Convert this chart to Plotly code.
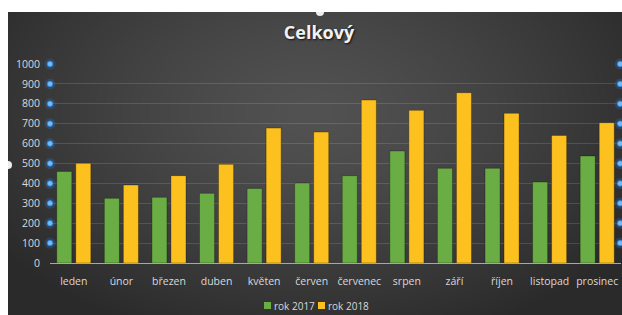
import base64
import struct
import zlib

import numpy as np
import plotly.graph_objects as go

# ---------------- data ----------------
months = ["leden", "únor", "březen", "duben", "květen", "červen",
          "červenec", "srpen", "září", "říjen", "listopad", "prosinec"]
rok_2017 = [460, 325, 330, 350, 375, 402, 439, 563, 476, 476, 407, 538]
rok_2018 = [501, 392, 439, 496, 678, 658, 819, 767, 856, 752, 641, 705]
series_names = ["rok 2017", "rok 2018"]
series_colors = ["#6aad45", "#fdc11f"]
y_ticks = [0, 100, 200, 300, 400, 500, 600, 700, 800, 900, 1000]
handle_levels = y_ticks[1:]

W, H = 622, 315


def px(x):
    return x / W


def py(y):
    return 1 - y / H


# ---------------- background gradient (PNG data uri) ----------------
def gradient_png(w, h):
    yy, xx = np.mgrid[0:h, 0:w].astype(float)
    cx, cy = 302.0, 100.0
    d = np.sqrt(((xx - cx) / (w * 0.62)) ** 2 + ((yy - cy) / (h * 0.80)) ** 2)
    d = np.clip(d, 0, 1)
    v = 82 - 40 * d ** 1.3
    arr = np.clip(v, 0, 255).astype(np.uint8)
    raw = b"".join(b"\x00" + arr[i].tobytes() for i in range(h))

    def chunk(tag, data):
        c = struct.pack(">I", len(data)) + tag + data
        return c + struct.pack(">I", zlib.crc32(tag + data) & 0xFFFFFFFF)

    png = b"\x89PNG\r\n\x1a\n"
    png += chunk(b"IHDR", struct.pack(">IIBBBBB", w, h, 8, 0, 0, 0, 0))
    png += chunk(b"IDAT", zlib.compress(raw, 9))
    png += chunk(b"IEND", b"")
    return "data:image/png;base64," + base64.b64encode(png).decode()


bg_uri = gradient_png(W - 8, H - 12)

FONT = "'Open Sans', Lato, sans-serif"
TXT = "#d9d9d9"

fig = go.Figure()

for name, vals, col in zip(series_names, [rok_2017, rok_2018], series_colors):
    fig.add_trace(go.Bar(
        name=name, x=months, y=vals,
        marker=dict(color=col, line=dict(color="rgba(0,0,0,0.35)", width=0.8)),
        showlegend=False,
    ))

# selection handles on gridlines (decorative)
for xpos in (0.0, 0.9985):
    fig.add_trace(go.Scatter(
        x=[xpos] * len(handle_levels), y=handle_levels, xaxis="x2", mode="markers",
        marker=dict(size=11, color="rgba(40,120,210,0.28)", line=dict(width=0)),
        showlegend=False, hoverinfo="skip", cliponaxis=False,
    ))
    fig.add_trace(go.Scatter(
        x=[xpos] * len(handle_levels), y=handle_levels, xaxis="x2", mode="markers",
        marker=dict(size=5.5, color="#6cbcff", line=dict(width=0.8, color="#2f86dd")),
        showlegend=False, hoverinfo="skip", cliponaxis=False,
    ))

# manual compact legend
legend_x = [264, 318]
shapes = []
annotations = []
for lx, name, col in zip(legend_x, series_names, series_colors):
    shapes.append(dict(type="rect", xref="paper", yref="paper",
                       x0=px(lx), x1=px(lx + 7), y0=py(309), y1=py(302),
                       fillcolor=col, line=dict(width=0)))
    annotations.append(dict(text=name, xref="paper", yref="paper",
                            x=px(lx + 8), y=py(305.5), xanchor="left",
                            yanchor="middle", showarrow=False,
                            font=dict(family=FONT, size=10, color=TXT)))

shapes += [
    dict(type="circle", xref="paper", yref="paper",
         x0=px(316), x1=px(324), y0=py(16), y1=py(8),
         fillcolor="#ededed", line=dict(width=0), layer="above"),
    dict(type="circle", xref="paper", yref="paper",
         x0=px(4), x1=px(12), y0=py(169), y1=py(161),
         fillcolor="#ededed", line=dict(width=0), layer="above"),
    dict(type="rect", xref="paper", yref="paper",
         x0=0, x1=px(8), y0=0, y1=1,
         fillcolor="white", line=dict(width=0), layer="above"),
    dict(type="rect", xref="paper", yref="paper",
         x0=0, x1=1, y0=py(12), y1=1,
         fillcolor="white", line=dict(width=0), layer="above"),
]

fig.update_layout(
    width=W, height=H,
    margin=dict(l=0, r=0, t=0, b=0, pad=0, autoexpand=False),
    paper_bgcolor="white",
    plot_bgcolor="rgba(0,0,0,0)",
    barmode="group",
    bargap=0.2,
    bargroupgap=0.21,
    showlegend=False,
    font=dict(family=FONT, color=TXT, size=10.5),
    title=dict(text="<b>Celkový</b>", x=px(319), xanchor="center",
               y=py(33), yanchor="middle",
               font=dict(family=FONT, size=18, color="#f2f2f2",
                         shadow="1px 1px 2px rgba(0,0,0,0.8)")),
    xaxis=dict(domain=[px(50), px(621)], range=[-0.5, 11.5], automargin=False,
               showgrid=False, showline=True, linecolor="#a8a8a8", linewidth=1,
               ticks="", tickfont=dict(size=10.5, color=TXT), ticklabelstandoff=8,
               zeroline=False, fixedrange=True),
    xaxis2=dict(overlaying="x", domain=[px(50), px(621)], range=[0, 1],
                visible=False, automargin=False, fixedrange=True),
    yaxis=dict(domain=[py(263), py(64)], range=[0, 1000], automargin=False,
               tickvals=y_ticks, showgrid=True,
               gridcolor="rgba(255,255,255,0.13)", gridwidth=1,
               zeroline=False, showline=False, ticks="",
               tickfont=dict(size=10.5, color=TXT), ticklabelstandoff=9,
               fixedrange=True),
    images=[dict(source=bg_uri, xref="paper", yref="paper",
                 x=px(8), y=py(12), sizex=px(W - 8), sizey=(H - 12) / H,
                 xanchor="left", yanchor="top", sizing="stretch",
                 layer="below")],
    shapes=shapes,
    annotations=annotations,
)

fig.write_html(
    "out.html",
    config={"displayModeBar": False, "staticPlot": True},
    post_script="document.body.style.margin='0';document.body.style.overflow='hidden';",
)
